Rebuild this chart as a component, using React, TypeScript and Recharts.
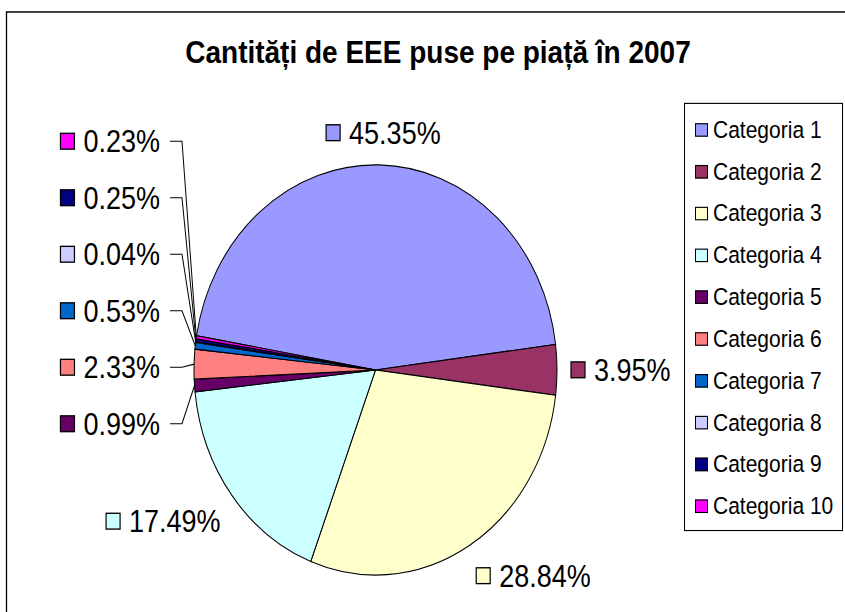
import React from 'react';
import { PieChart, Pie, Cell, Legend } from 'recharts';

const categories = [
  'Categoria 1', 'Categoria 2', 'Categoria 3', 'Categoria 4', 'Categoria 5',
  'Categoria 6', 'Categoria 7', 'Categoria 8', 'Categoria 9', 'Categoria 10',
];
const shares = [45.35, 3.95, 28.84, 17.49, 0.99, 2.33, 0.53, 0.04, 0.25, 0.23];
const colors = [
  '#9999FF', '#993366', '#FFFFCC', '#CCFFFF', '#660066',
  '#FF8080', '#0066CC', '#CCCCFF', '#000080', '#FF00FF',
];
const title = 'Cantități de EEE puse pe piață în 2007';

const data = categories.map((name, i) => ({ name, value: shares[i] }));

const W = 845;
const H = 612;
const STRETCH = 1.13;
const NH = Math.round(H / STRETCH);
const FONT = '"Liberation Sans", Arial, Helvetica, sans-serif';
const LABEL_FS = 27;
const SQ = 14;
const SQ_GAP = 9;
const GAP_OUT = 14;
const LINE_H = 29;
const STACK_RIGHT = 160;
const STACK_BOTTOM = 375;
const STACK_STEP = 50;

const charW: Record<string, number> = { '.': 0.278, '%': 0.889 };
const textWidth = (s: string, fs: number) =>
  s.split('').reduce((a, c) => a + (charW[c] ?? 0.556), 0) * fs;

const clamp = (v: number) => Math.max(-1, Math.min(1, v));

const renderLabel = (props: any) => {
  const { cx, cy, midAngle, outerRadius, index } = props;
  const RAD = Math.PI / 180;
  const cos = Math.cos(midAngle * RAD);
  const sin = Math.sin(midAngle * RAD);
  const ex = cx + outerRadius * cos;
  const ey = cy - outerRadius * sin;
  const text = shares[index].toFixed(2) + '%';
  const tw = textWidth(text, LABEL_FS);
  const w = SQ + SQ_GAP + tw;
  const stacked = shares[index] < 3 && cos < 0;
  let left: number;
  let yc: number;
  let leader: string | null = null;
  if (stacked) {
    let k = 0;
    for (let j = 0; j < index; j++) if (shares[j] < 3) k++;
    yc = STACK_BOTTOM - k * STACK_STEP;
    left = STACK_RIGHT - w;
    leader = `${STACK_RIGHT + 10},${yc} ${STACK_RIGHT + 22},${yc} ${ex},${ey}`;
  } else {
    const ax = ex + GAP_OUT * cos;
    const ay = ey - GAP_OUT * sin;
    const hx = clamp(cos * 3);
    const vy = clamp(-sin * 3);
    left = ax - w / 2 + (hx * w) / 2;
    yc = ay + (vy * LINE_H) / 2;
  }
  return (
    <g key={`lbl-${index}`}>
      {leader && <polyline points={leader} fill="none" stroke="#000" strokeWidth={1} />}
      <rect x={left} y={yc - SQ / 2} width={SQ} height={SQ} fill={colors[index]} stroke="#000" strokeWidth={1.2} />
      <text
        x={left + SQ + SQ_GAP}
        y={yc}
        dy={LABEL_FS * 0.355}
        fontFamily={FONT}
        fontSize={LABEL_FS}
        fill="#000"
      >
        {text}
      </text>
    </g>
  );
};

const renderLegend = () => {
  const items = categories.map((n, i) => ({ name: n, color: colors[i] }));
  return (
    <div
      style={{
        border: '1px solid #000',
        background: '#fff',
        width: 159,
        height: 379,
        boxSizing: 'border-box',
        paddingTop: 4,
        fontFamily: FONT,
        fontSize: 21,
        color: '#000',
      }}
    >
      {items.map((it, i) => (
        <div key={i} style={{ display: 'flex', alignItems: 'center', height: 37, paddingLeft: 10 }}>
          <div style={{ width: 11, height: 10, background: it.color, border: '1px solid #000', marginRight: 5, flex: 'none' }} />
          <span style={{ whiteSpace: 'nowrap', lineHeight: '21px' }}>{it.name}</span>
        </div>
      ))}
    </div>
  );
};

export default function App() {
  return (
    <div style={{ position: 'absolute', left: 0, top: 0, width: W, height: H, overflow: 'hidden', background: '#fff' }}>
      <div style={{ position: 'relative', width: W, height: NH, transform: `scaleY(${STRETCH})`, transformOrigin: '0 0' }}>
        <svg width={W} height={NH} style={{ position: 'absolute', left: 0, top: 0 }}>
          <rect x={6.5} y={10.6} width={W + 50} height={NH + 50} fill="#fff" stroke="#000" strokeWidth={1.3} />
          <text x={438} y={55.5} textAnchor="middle" fontFamily={FONT} fontWeight="bold" fontSize={28} fill="#000">
            {title}
          </text>
        </svg>
        <div style={{ position: 'absolute', left: 0, top: 0 }}>
          <PieChart width={W} height={NH} margin={{ top: 0, right: 0, bottom: 0, left: 0 }}>
            <Pie
              data={data}
              dataKey="value"
              nameKey="name"
              cx={375.5}
              cy={327.4}
              outerRadius={181.5}
              startAngle={170.4}
              endAngle={-189.6}
              stroke="#000"
              strokeWidth={1}
              isAnimationActive={false}
              label={renderLabel}
              labelLine={false}
            >
              {data.map((d, i) => (
                <Cell key={d.name} fill={colors[i]} />
              ))}
            </Pie>
            <Legend
              layout="vertical"
              align="right"
              verticalAlign="top"
              content={renderLegend}
              wrapperStyle={{ left: 684, top: 91, right: 'auto', bottom: 'auto', width: 159, height: 379 }}
            />
          </PieChart>
        </div>
      </div>
    </div>
  );
}
